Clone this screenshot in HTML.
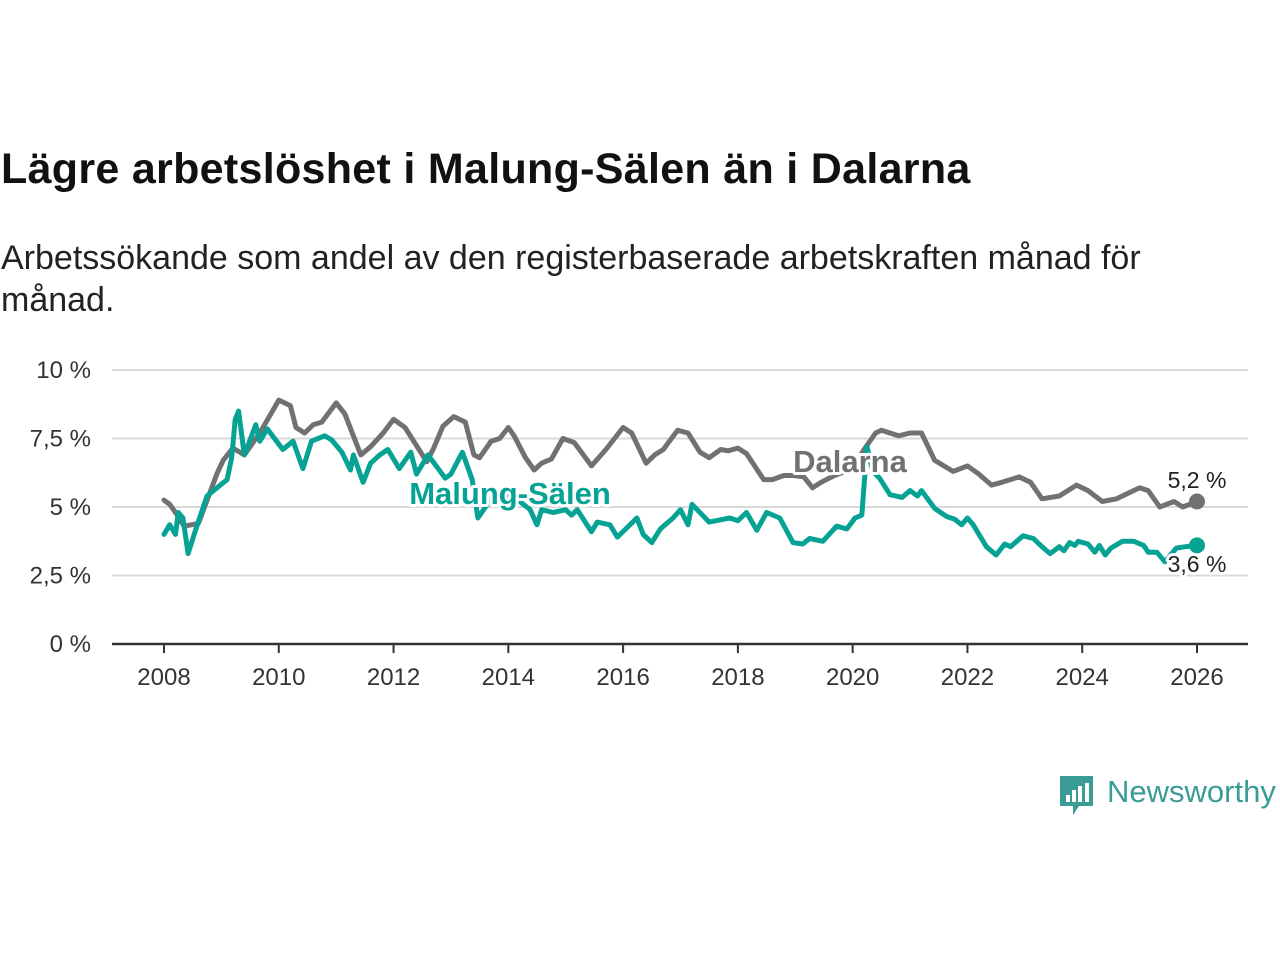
<!DOCTYPE html>
<html><head><meta charset="utf-8">
<style>
body{margin:0;width:1280px;height:960px;background:#fff;overflow:hidden;font-family:"Liberation Sans","DejaVu Sans",sans-serif;color:#111}
#title{position:absolute;left:1px;top:145px;font-size:43px;font-weight:bold;white-space:nowrap;letter-spacing:0.3px}
#sub{position:absolute;left:1px;top:237px;font-size:34px;line-height:42px;white-space:nowrap;color:#222}
svg{position:absolute;left:0;top:0}
</style></head><body>
<div id="title">Lägre arbetslöshet i Malung-Sälen än i Dalarna</div>
<div id="sub">Arbetssökande som andel av den registerbaserade arbetskraften månad för<br>månad.</div>
<svg id="chart" width="1280" height="960"></svg>
<script>
const yTicks=[0,2.5,5,7.5,10];
const yTickLabels=["0 %","2,5 %","5 %","7,5 %","10 %"];
const xTicks=[2008,2010,2012,2014,2016,2018,2020,2022,2024,2026];
const dalYears=[2008.0,2008.1,2008.25,2008.35,2008.6,2008.92,2009.03,2009.2,2009.4,2009.67,2010.0,2010.2,2010.3,2010.45,2010.6,2010.75,2011.0,2011.15,2011.43,2011.6,2011.82,2012.0,2012.2,2012.58,2012.7,2012.86,2013.05,2013.25,2013.4,2013.5,2013.7,2013.85,2014.0,2014.1,2014.3,2014.45,2014.58,2014.75,2014.95,2015.15,2015.45,2015.7,2016.0,2016.15,2016.4,2016.55,2016.7,2016.95,2017.13,2017.34,2017.5,2017.7,2017.83,2018.0,2018.15,2018.45,2018.6,2018.8,2018.96,2019.15,2019.3,2019.45,2019.68,2020.0,2020.2,2020.4,2020.5,2020.8,2021.0,2021.2,2021.43,2021.75,2022.0,2022.2,2022.42,2022.6,2022.9,2023.1,2023.3,2023.6,2023.9,2024.1,2024.35,2024.6,2024.8,2025.0,2025.15,2025.35,2025.6,2025.75,2026.0];
const dalValues=[5.25,5.1,4.65,4.3,4.4,6.2,6.7,7.15,6.9,7.7,8.9,8.7,7.9,7.7,8.0,8.1,8.8,8.4,6.9,7.2,7.7,8.2,7.9,6.65,7.15,7.95,8.3,8.1,6.9,6.8,7.4,7.5,7.9,7.6,6.8,6.35,6.6,6.75,7.5,7.35,6.5,7.1,7.9,7.7,6.6,6.9,7.1,7.8,7.7,7.0,6.8,7.1,7.05,7.15,6.95,6.0,6.0,6.15,6.15,6.1,5.7,5.9,6.15,6.4,7.1,7.7,7.8,7.6,7.7,7.7,6.7,6.3,6.5,6.2,5.8,5.9,6.1,5.9,5.3,5.4,5.8,5.6,5.2,5.3,5.5,5.7,5.6,5.0,5.2,5.0,5.2];
const malYears=[2008.0,2008.1,2008.2,2008.25,2008.33,2008.42,2008.54,2008.75,2009.1,2009.18,2009.24,2009.3,2009.4,2009.6,2009.67,2009.8,2010.07,2010.25,2010.42,2010.57,2010.8,2010.92,2011.1,2011.25,2011.3,2011.47,2011.6,2011.76,2011.9,2012.1,2012.3,2012.4,2012.6,2012.9,2013.0,2013.2,2013.37,2013.47,2013.7,2014.0,2014.2,2014.38,2014.5,2014.58,2014.78,2015.0,2015.1,2015.2,2015.45,2015.55,2015.77,2015.9,2016.24,2016.35,2016.5,2016.65,2016.87,2017.0,2017.13,2017.2,2017.5,2017.86,2018.0,2018.15,2018.33,2018.5,2018.73,2018.96,2019.13,2019.25,2019.48,2019.72,2019.9,2020.04,2020.16,2020.25,2020.35,2020.47,2020.65,2020.86,2021.0,2021.13,2021.2,2021.43,2021.64,2021.78,2021.9,2022.0,2022.1,2022.33,2022.5,2022.65,2022.75,2022.97,2023.15,2023.3,2023.44,2023.6,2023.68,2023.78,2023.87,2023.93,2024.1,2024.22,2024.3,2024.4,2024.5,2024.7,2024.9,2025.07,2025.15,2025.3,2025.44,2025.64,2025.8,2026.0];
const malValues=[4.0,4.35,4.0,4.8,4.6,3.3,4.1,5.4,6.0,6.8,8.2,8.5,6.9,8.0,7.4,7.85,7.1,7.4,6.4,7.4,7.6,7.45,7.0,6.35,6.9,5.9,6.6,6.9,7.1,6.4,7.0,6.2,6.9,6.05,6.2,7.0,6.0,4.6,5.3,5.4,5.2,4.9,4.35,4.9,4.8,4.9,4.7,4.9,4.1,4.45,4.35,3.9,4.6,4.0,3.7,4.2,4.6,4.9,4.35,5.1,4.45,4.6,4.5,4.8,4.15,4.8,4.6,3.7,3.65,3.85,3.75,4.3,4.2,4.6,4.7,7.2,6.3,6.05,5.45,5.35,5.6,5.4,5.6,4.95,4.65,4.55,4.35,4.6,4.35,3.55,3.25,3.65,3.55,3.95,3.85,3.55,3.3,3.55,3.4,3.7,3.6,3.75,3.65,3.35,3.6,3.25,3.5,3.75,3.75,3.6,3.35,3.35,3.0,3.5,3.55,3.6];

const NS='http://www.w3.org/2000/svg';
const svg=document.getElementById('chart');
const X0=164,X1=1197,Y0=644,Y1=370;
const xs=v=>X0+(v-2008)/(2026-2008)*(X1-X0);
const ys=v=>Y0-(v-0)/10*(Y0-Y1);
function mk(tag,attrs,parent){const e=document.createElementNS(NS,tag);for(const k in attrs)e.setAttribute(k,attrs[k]);(parent||svg).appendChild(e);return e;}
yTicks.forEach((t,i)=>{
  if(t>0){const g=mk('line',{x1:112,x2:1248,y1:ys(t),y2:ys(t),stroke:'#d9d9d9','stroke-width':2});
  
  }
  const tx=mk('text',{x:91,y:ys(t)+8,'text-anchor':'end','font-size':24,fill:'#333'});
  tx.textContent=yTickLabels[i];
  
  
});
const ax=mk('line',{x1:112,x2:1248,y1:Y0,y2:Y0,stroke:'#333','stroke-width':2.5});


xTicks.forEach(t=>{
  const tk=mk('line',{x1:xs(t),x2:xs(t),y1:Y0,y2:Y0+9,stroke:'#333','stroke-width':2});
  
  
  const tx=mk('text',{x:xs(t),y:685,'text-anchor':'middle','font-size':24,fill:'#333'});
  tx.textContent=t;
  
  
});
function line(yrs,vals,color,name){
  const d=yrs.map((y,i)=>(i?'L':'M')+xs(y).toFixed(1)+','+ys(vals[i]).toFixed(1)).join('');
  const p=mk('path',{d:d,fill:'none',stroke:color,'stroke-width':5,'stroke-linejoin':'round','stroke-linecap':'round'});
  
  
  const c=mk('circle',{cx:xs(yrs[yrs.length-1]),cy:ys(vals[vals.length-1]),r:8,fill:color});
  
  
}
const GRAY='#717073',TEAL='#06a394';
line(dalYears,dalValues,GRAY,'dalarna-line');
line(malYears,malValues,TEAL,'malung-salen-line');
function label(txt,x,y,color,size,bold,anchor,name){
  const t=mk('text',{x:x,y:y,'text-anchor':anchor,'font-size':size,'font-weight':bold?'bold':'normal',fill:color,stroke:'#fff','stroke-width':6,'paint-order':'stroke','stroke-linejoin':'round'});
  t.textContent=txt;
  
  
}
label('Dalarna',850,472,GRAY,31,true,'middle','dalarna-label');
label('Malung-Sälen',510,504,TEAL,31,true,'middle','malung-salen-label');
label(dalValues[dalValues.length-1].toFixed(1).replace('.',',')+' %',1197,488,'#222',23,false,'middle','dalarna-end-value');
label(malValues[malValues.length-1].toFixed(1).replace('.',',')+' %',1197,572,'#222',23,false,'middle','malung-salen-end-value');
</script>
<svg width="1280" height="960" style="pointer-events:none">
<path d="M1060 776h33v30h-14l-6 9v-9h-13z" fill="#3a9c94"/>
<rect x="1066" y="795" width="4" height="7" fill="#fff"/><rect x="1072" y="790" width="4" height="12" fill="#fff"/><rect x="1078" y="786" width="4" height="16" fill="#fff"/><rect x="1085" y="783" width="4" height="19" fill="#fff"/>
<text x="1107" y="802" font-size="31" fill="#3a9c94" font-family="Liberation Sans, sans-serif">Newsworthy</text>
</svg>
</body></html>
